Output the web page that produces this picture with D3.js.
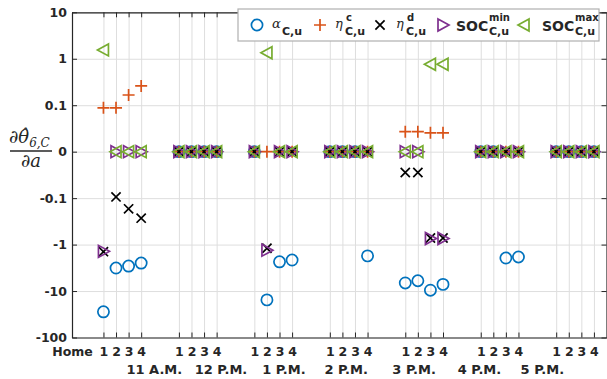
<!DOCTYPE html>
<html>
<head>
<meta charset="utf-8">
<script src="https://cdn.jsdelivr.net/npm/d3@7"></script>
<style>
body { margin: 0; background: #fff; }
text { font-family: 'DejaVu Sans', sans-serif; font-weight: bold; fill: #262626; }
</style>
</head>
<body>
<svg width="607" height="379"></svg>
<script>
var width = 607;
var height = 379;
var plotLeft = 72, plotRight = 606.5, plotTop = 12.3, plotBottom = 337.5;

// x layout: Home, then 7 hours with 4 units each
var groups = ['11 A.M.', '12 P.M.', '1 P.M.', '2 P.M.', '3 P.M.', '4 P.M.', '5 P.M.'];
var units = ['1', '2', '3', '4'];
var homeLabel = 'Home';
var homePos = -2.5;
var groupLabelPos = [4.05, 9.35, 14.35, 19.3, 24.7, 29.9, 34.9];

// y ticks (symmetric log axis)
var yTickValues = [10, 1, 0.1, 0, -0.1, -1, -10, -100];
var yTickLabels = ['10', '1', '0.1', '0', '-0.1', '-1', '-10', '-100'];

// values per unit, hour by hour (11 A.M. ... 5 P.M.)
var alphaCu = [-28, -3.2, -2.9, -2.5,
               0, 0, 0, 0,
               0, -15.5, -2.35, -2.15,
               0, 0, 0, -1.75,
               -6.7, -6.0, -9.6, -7.2,
               0, 0, -1.95, -1.85,
               0, 0, 0, 0];
var etaC = [0.088, 0.088, 0.166, 0.26,
            0, 0, 0, 0,
            0, 0, 0, 0,
            0, 0, 0, 0,
            0.027, 0.027, 0.0255, 0.0255,
            0, 0, 0, 0,
            0, 0, 0, 0];
var etaD = [-1.42, -0.094, -0.17, -0.27,
            0, 0, 0, 0,
            0, -1.2, 0, 0,
            0, 0, 0, 0,
            -0.028, -0.028, -0.72, -0.72,
            0, 0, 0, 0,
            0, 0, 0, 0];
var socMin = [-1.4, 0, 0, 0,
              0, 0, 0, 0,
              0, -1.32, 0, 0,
              0, 0, 0, 0,
              0, 0, -0.74, -0.74,
              0, 0, 0, 0,
              0, 0, 0, 0];
var socMax = [1.55, 0, 0, 0,
              0, 0, 0, 0,
              0, 1.35, 0, 0,
              0, 0, 0, 0,
              0, 0, 0.76, 0.76,
              0, 0, 0, 0,
              0, 0, 0, 0];

function posOf(i) { return Math.floor(i / 4) * 6 + (i % 4); }
function sym(v) { return v === 0 ? 0 : Math.sign(v) * (Math.log10(Math.abs(v)) + 2); }

var x = d3.scaleLinear().domain([-2.5, 40]).range([plotLeft, plotRight]);
var y = d3.scaleLinear().domain([-4, 3]).range([plotBottom, plotTop]);

var xTickPos = [homePos];
var xTickText = [homeLabel];
groups.forEach(function(g, gi) {
  units.forEach(function(u, k) {
    xTickPos.push(gi * 6 + k);
    xTickText.push(u);
  });
});
var yTickPos = yTickValues.map(sym);

var svg = d3.select('svg');
var axisColor = '#262626';

// grid
svg.append('g')
  .attr('transform', 'translate(0,' + plotBottom + ')')
  .call(d3.axisBottom(x).tickValues(xTickPos).tickSize(-(plotBottom - plotTop)).tickFormat(''))
  .call(function(g) { g.select('.domain').remove(); g.selectAll('line').attr('stroke', '#dedede'); });
svg.append('g')
  .attr('transform', 'translate(' + plotLeft + ',0)')
  .call(d3.axisLeft(y).tickValues(yTickPos).tickSize(-(plotRight - plotLeft)).tickFormat(''))
  .call(function(g) { g.select('.domain').remove(); g.selectAll('line').attr('stroke', '#dedede'); });

// markers
var series = [
  { values: alphaCu, color: '#0072BD', type: 'circle' },
  { values: etaC, color: '#D95319', type: 'plus' },
  { values: etaD, color: '#000000', type: 'cross' },
  { values: socMin, color: '#7E2F8E', type: 'right' },
  { values: socMax, color: '#77AC30', type: 'left' }
];
var shapes = {
  plus: 'M-6,0H6M0,-6V6',
  cross: 'M-4.6,-4.6L4.6,4.6M-4.6,4.6L4.6,-4.6',
  right: 'M-5,-6L6,0L-5,6Z',
  left: 'M5,-6L-6,0L5,6Z'
};
function drawMarker(sel, type, color) {
  if (type === 'circle') {
    sel.append('circle').attr('r', 5.6).attr('fill', 'none')
      .attr('stroke', color).attr('stroke-width', 1.7);
  } else {
    sel.append('path').attr('d', shapes[type]).attr('fill', 'none')
      .attr('stroke', color).attr('stroke-width', 1.7);
  }
}
var markGroup = svg.append('g');
series.forEach(function(s) {
  markGroup.append('g').selectAll('g').data(s.values).enter()
    .append('g')
    .attr('transform', function(d, i) { return 'translate(' + x(posOf(i)) + ',' + y(sym(d)) + ')'; })
    .each(function() { drawMarker(d3.select(this), s.type, s.color); });
});

// axes (box with inward ticks)
function styleAxis(g) {
  g.select('.domain').attr('stroke', axisColor).attr('stroke-width', 1.2);
  g.selectAll('.tick line').attr('stroke', axisColor).attr('stroke-width', 1);
}
svg.append('g')
  .attr('transform', 'translate(0,' + plotBottom + ')')
  .call(d3.axisBottom(x).tickValues(xTickPos).tickSizeInner(-5).tickSizeOuter(0).tickPadding(10)
    .tickFormat(function(d, i) { return xTickText[i]; }))
  .call(styleAxis)
  .call(function(g) { g.selectAll('text').attr('font-size', '12.5px').attr('font-family', 'DejaVu Sans').attr('fill', axisColor); });
svg.append('g')
  .attr('transform', 'translate(0,' + plotTop + ')')
  .call(d3.axisTop(x).tickValues(xTickPos).tickSizeInner(-5).tickSizeOuter(0).tickFormat(''))
  .call(styleAxis);
svg.append('g')
  .attr('transform', 'translate(' + plotLeft + ',0)')
  .call(d3.axisLeft(y).tickValues(yTickPos).tickSizeInner(-5).tickSizeOuter(0).tickPadding(5)
    .tickFormat(function(d, i) { return yTickLabels[i]; }))
  .call(styleAxis)
  .call(function(g) { g.selectAll('text').attr('font-size', '12.5px').attr('font-family', 'DejaVu Sans').attr('fill', axisColor); });
svg.append('g')
  .attr('transform', 'translate(' + plotRight + ',0)')
  .call(d3.axisRight(y).tickValues(yTickPos).tickSizeInner(-5).tickSizeOuter(0).tickFormat(''))
  .call(styleAxis);

// hour labels
svg.append('g').selectAll('text').data(groups).enter()
  .append('text')
  .attr('x', function(d, i) { return x(groupLabelPos[i]); })
  .attr('y', 374)
  .attr('text-anchor', 'middle')
  .attr('font-size', '13px')
  .text(function(d) { return d; });

// y label: fraction
var ylab = svg.append('g');
var num = ylab.append('text').attr('x', 9).attr('y', 143)
  .style('font-family', 'DejaVu Serif').style('font-weight', 'normal').style('font-style', 'italic')
  .attr('font-size', '18px');
num.append('tspan').text('\u2202\u03B8\u0302');
num.append('tspan').attr('font-size', '12px').attr('dy', 4).text('6,C');
ylab.append('line').attr('x1', 10).attr('x2', 52).attr('y1', 151).attr('y2', 151)
  .attr('stroke', axisColor).attr('stroke-width', 1.3);
ylab.append('text').attr('x', 31).attr('y', 167).attr('text-anchor', 'middle')
  .style('font-family', 'DejaVu Serif').style('font-weight', 'normal').style('font-style', 'italic')
  .attr('font-size', '18px').text('\u2202a');

// legend
var legend = svg.append('g');
legend.append('rect').attr('x', 238).attr('y', 9).attr('width', 361).attr('height', 32)
  .attr('fill', '#fff').attr('stroke', '#b0b0b0').attr('stroke-width', 1.2);
var legendItems = [
  { mx: 257, tx: 272, greek: '\u03B1', sup: '', sub: 'C,u' },
  { mx: 320, tx: 335, greek: '\u03B7', sup: 'c', sub: 'C,u' },
  { mx: 380, tx: 396, greek: '\u03B7', sup: 'd', sub: 'C,u' },
  { mx: 443, tx: 456, greek: '', base: 'SOC', sup: 'min', sub: 'C,u' },
  { mx: 524, tx: 542, greek: '', base: 'SOC', sup: 'max', sub: 'C,u' }
];
legendItems.forEach(function(it, i) {
  var s = series[i];
  var m = legend.append('g').attr('transform', 'translate(' + it.mx + ',25)');
  drawMarker(m, s.type, s.color);
  var subX;
  if (it.greek) {
    legend.append('text').attr('x', it.tx).attr('y', 28)
      .style('font-family', 'DejaVu Serif').style('font-weight', 'normal').style('font-style', 'italic')
      .attr('fill', '#555').attr('font-size', '13px').text(it.greek);
    subX = it.tx + 10;
  } else {
    legend.append('text').attr('x', it.tx).attr('y', 30.5).attr('font-size', '14px').text(it.base);
    subX = it.tx + 33;
  }
  if (it.sup) {
    legend.append('text').attr('x', subX + (it.greek ? 1 : 0)).attr('y', 21).attr('font-size', '10px').text(it.sup);
  }
  legend.append('text').attr('x', subX).attr('y', 35).attr('font-size', '11px').text(it.sub);
});
</script>
</body>
</html>
